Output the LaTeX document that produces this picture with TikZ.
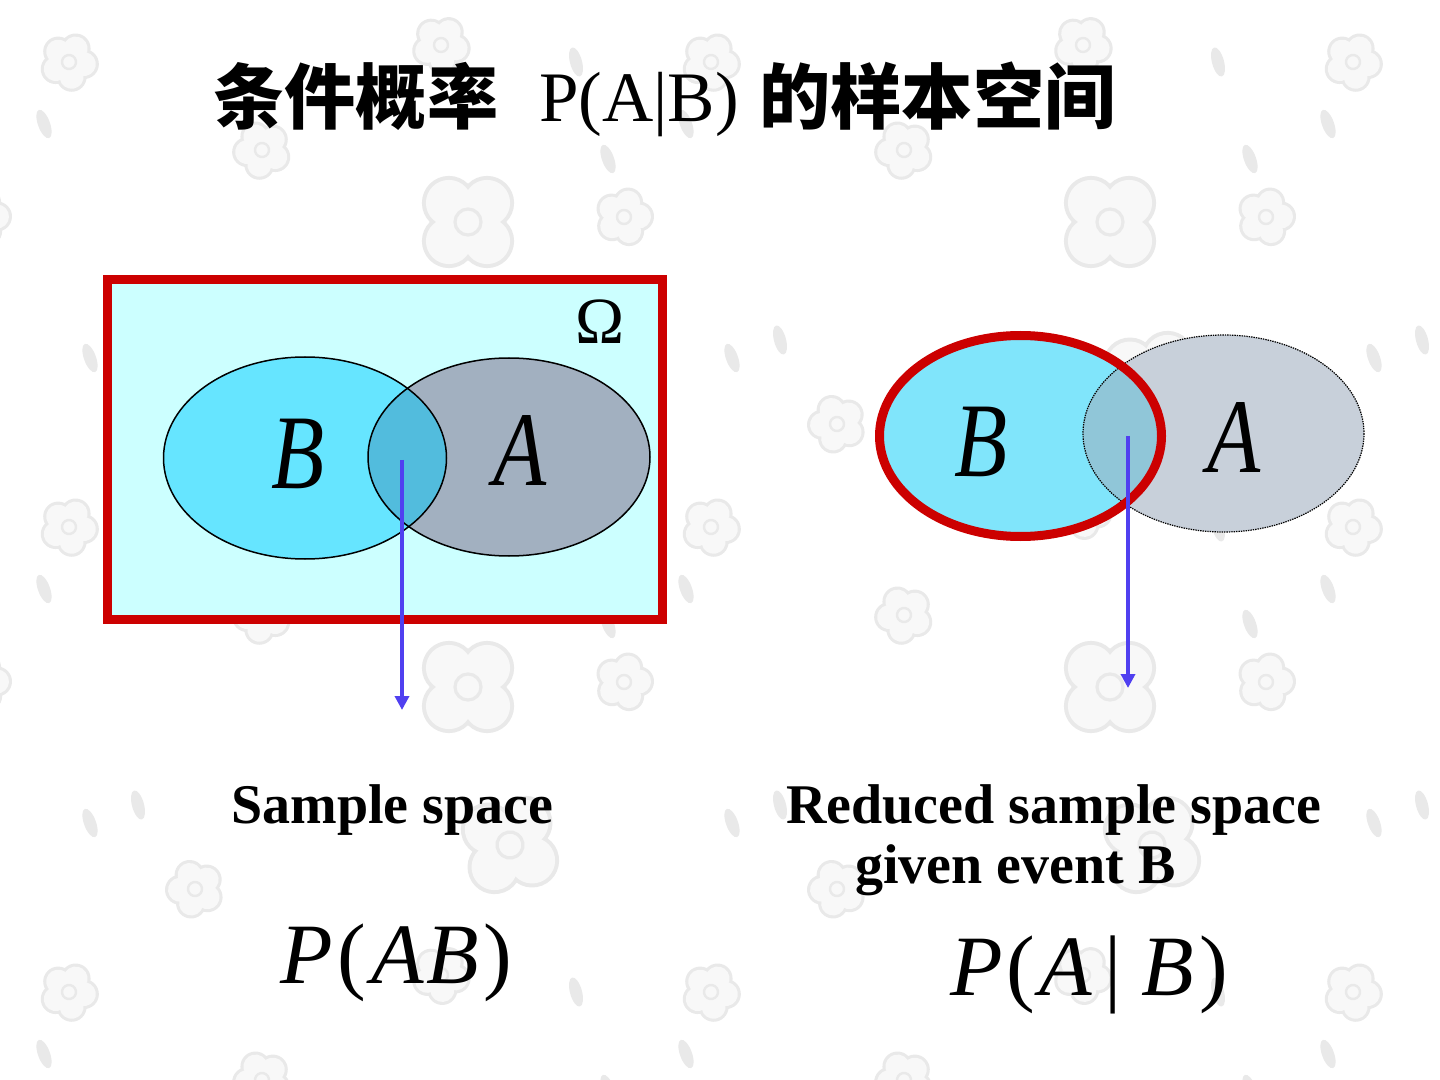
\documentclass[tikz,border=0pt]{standalone}
\usepackage{fontspec}
\setmainfont{Liberation Serif}
\newfontfamily\cjk{Noto Sans CJK SC}
\usetikzlibrary{arrows.meta}

\definecolor{boxred}{HTML}{CC0000}
\definecolor{omegabg}{HTML}{CCFFFF}
\definecolor{lB}{HTML}{66E5FF}
\definecolor{lA}{HTML}{A2B0C0}
\definecolor{lAB}{HTML}{52BCDD}
\definecolor{rB}{HTML}{80E5FB}
\definecolor{rA}{HTML}{C8D0DA}
\definecolor{rAB}{HTML}{90C6D8}
\definecolor{arrowblue}{HTML}{5040F0}
\definecolor{flowerline}{HTML}{E9E9E9}
\definecolor{flowerfill}{HTML}{F8F8F8}

\newcommand\bgflowerS[3]{%
  \begin{scope}[shift={(#1,#2)},rotate=#3]
    \foreach \a in {90,162,...,378} \fill[flowerline] (\a:15) circle (15);
    \foreach \a in {90,162,...,378} \fill[flowerfill] (\a:15) circle (12);
    \fill[flowerfill] (0,0) circle (14);
    \draw[flowerline,line width=1.2pt] (0,0) circle (7);
  \end{scope}}
\newcommand\bgflowerL[3]{%
  \begin{scope}[shift={(#1,#2)},rotate=#3]
    \foreach \a in {45,135,225,315} \fill[flowerline] (\a:27) circle (27);
    \foreach \a in {45,135,225,315} \fill[flowerfill] (\a:27) circle (23);
    \fill[flowerfill] (0,0) circle (26);
    \draw[flowerline,line width=1.6pt] (0,0) circle (13);
  \end{scope}}
\newcommand\bgleaf[3]{%
  \fill[flowerline,rotate around={#3:(#1,#2)}] (#1,#2) ellipse [x radius=6, y radius=15];}

\tikzset{
  thinoutline/.style={draw=black, line width=0.75pt},
  dotoutline/.style={draw=black, line width=0.6pt, dash pattern=on 0.7pt off 0.5pt},
  flowarrow/.style={draw=arrowblue, line width=2pt, -{Triangle[length=7pt,width=7pt]}},
  setlbl/.style={font=\fontsize{53pt}{56pt}\selectfont\itshape, inner sep=0pt, xscale=0.82, transform shape},
  captxt/.style={font=\fontsize{28pt}{30pt}\selectfont\bfseries, inner sep=0pt, anchor=base west},
  probtxt/.style={font=\fontsize{43pt}{46pt}\selectfont, inner sep=0pt, anchor=base west},
  titlecjk/.style={font=\cjk\bfseries\fontsize{35.6pt}{40pt}\selectfont, inner sep=0pt, anchor=base west},
  titlelat/.style={font=\fontsize{35.5pt}{40pt}\selectfont, inner sep=0pt, anchor=base west}
}

\begin{document}
\begin{tikzpicture}[x=0.5pt,y=-0.5pt]
\fill[white] (0,0) rectangle (1440,1080);
\useasboundingbox (0,0) rectangle (1440,1080);

% background flower pattern
\begin{scope}
\clip (0,0) rectangle (1440,1080);
\foreach \i in {-1,0,1,2} {
  \foreach \j in {-1,0,1,2} {
    \begin{scope}[shift={(\i*642,\j*465)}]
      \bgflowerS{69}{62}{10}
      \bgflowerS{262}{150}{-10}
      \bgflowerS{441}{45}{5}
      \bgflowerS{624}{217}{20}
      \bgflowerS{195}{424}{-15}
      \bgflowerL{468}{222}{0}
      \bgflowerL{510}{380}{10}
      \bgleaf{44}{124}{20}
      \bgleaf{576}{62}{15}
      \bgleaf{608}{159}{20}
      \bgleaf{138}{340}{15}
      \bgleaf{90}{358}{20}
    \end{scope}
  }
}
\end{scope}

% title
\node[titlecjk] (t1) at (213,124) {条件概率};
\node[titlelat] (t2) at (539,122) {P(A|B)};
\node[titlecjk] (t3) at (759,124) {的样本空间};

% left: sample space
\draw[boxred, line width=4.5pt, fill=omegabg] (107.5,279.5) rectangle (662.5,619.5);
\node[font=\fontsize{33pt}{36pt}\selectfont, inner sep=0pt] (omega) at (600,322) {Ω};
\fill[lB] (305,458) ellipse [x radius=141.5, y radius=101];
\fill[lA] (509,457) ellipse [x radius=141, y radius=99];
\begin{scope}
  \clip (305,458) ellipse [x radius=141.5, y radius=101];
  \fill[lAB] (509,457) ellipse [x radius=141, y radius=99];
\end{scope}
\draw[thinoutline] (305,458) ellipse [x radius=141.5, y radius=101];
\draw[thinoutline] (509,457) ellipse [x radius=141, y radius=99];
\node[setlbl] (lBlab) at (298,454) {B};
\node[setlbl] (lAlab) at (520,451) {A};
\coordinate (lstart) at (402,460);
\coordinate (lend) at (402,710);
\draw[flowarrow] (lstart) -- (lend);

% right: reduced sample space
\fill[rB] (1020.5,436) ellipse [x radius=141, y radius=100.5];
\fill[rA] (1223.5,433.5) ellipse [x radius=140.5, y radius=98.5];
\begin{scope}
  \clip (1020.5,436) ellipse [x radius=141, y radius=100.5];
  \fill[rAB] (1223.5,433.5) ellipse [x radius=140.5, y radius=98.5];
\end{scope}
\draw[dotoutline] (1223.5,433.5) ellipse [x radius=140.5, y radius=98.5];
\draw[boxred, line width=4.5pt] (1020.5,436) ellipse [x radius=141, y radius=100.5];
\node[setlbl] (rBlab) at (981,442) {B};
\node[setlbl] (rAlab) at (1234,438) {A};
\coordinate (rstart) at (1128,436);
\coordinate (rend) at (1128,688);
\draw[flowarrow] (rstart) -- (rend);

% captions
\node[captxt] (cap1) at (231,823) {Sample space};
\node[captxt] (cap2) at (786,823) {Reduced sample space};
\node[captxt] (cap3) at (855,883) {given event B};

% probabilities
\node[probtxt] (pab) at (280,983) {\textit{P}\hspace{2.5pt}(\hspace{2.5pt}\textit{A}\hspace{1pt}\textit{B}\hspace{2.5pt})};
\node[probtxt] (pagb) at (950,995) {\textit{P}\hspace{2pt}(\hspace{2pt}\textit{A}\hspace{6pt}|\hspace{10pt}\textit{B}\hspace{2.5pt})};
\end{tikzpicture}
\end{document}
